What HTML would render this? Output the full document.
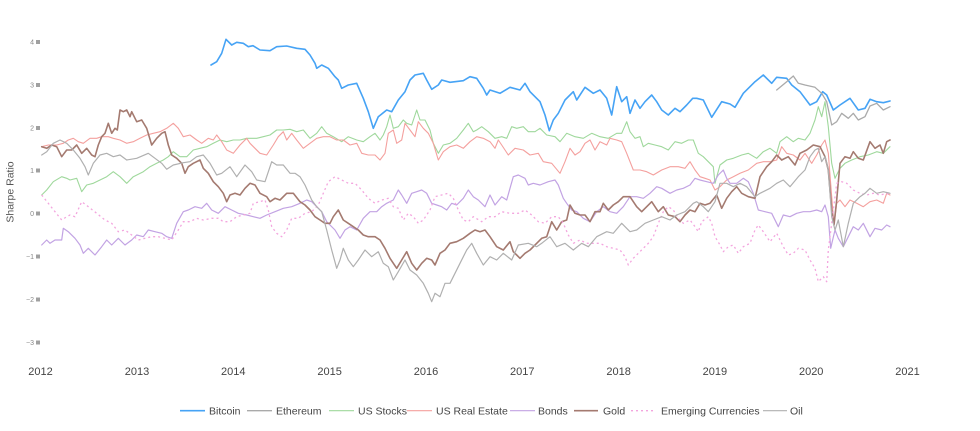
<!DOCTYPE html>
<html>
<head>
<meta charset="utf-8">
<style>
html,body{margin:0;padding:0;background:#fff;}
svg{display:block;}
text{font-family:"Liberation Sans",Arial,sans-serif;}
</style>
</head>
<body>
<svg width="980" height="431" viewBox="0 0 980 431" xmlns="http://www.w3.org/2000/svg">
<rect width="980" height="431" fill="#fff"/>
<!-- Y axis tick labels -->
<g font-size="7" fill="#888" text-anchor="end">
<text x="34" y="44.5">4</text>
<text x="34" y="87.5">3</text>
<text x="34" y="130.5">2</text>
<text x="34" y="173">1</text>
<text x="34" y="216">0</text>
<text x="34" y="259">−1</text>
<text x="34" y="302">−2</text>
<text x="34" y="345">−3</text>
</g>
<g fill="#a0a0a0">
<rect x="36" y="40" width="4" height="4"/>
<rect x="36" y="83" width="4" height="4"/>
<rect x="36" y="126" width="4" height="4"/>
<rect x="36" y="168.5" width="4" height="4"/>
<rect x="36" y="211.5" width="4" height="4"/>
<rect x="36" y="254.5" width="4" height="4"/>
<rect x="36" y="297.5" width="4" height="4"/>
<rect x="36" y="340.5" width="4" height="4"/>
</g>
<text x="0" y="0" font-size="10.5" fill="#555" text-anchor="middle" transform="translate(13.5,192) rotate(-90)">Sharpe Ratio</text>
<!-- X axis labels -->
<g font-size="11" fill="#444" text-anchor="middle">
<text x="40.5" y="375">2012</text>
<text x="137" y="375">2013</text>
<text x="233.3" y="375">2014</text>
<text x="329.6" y="375">2015</text>
<text x="426" y="375">2016</text>
<text x="522.3" y="375">2017</text>
<text x="618.6" y="375">2018</text>
<text x="714.9" y="375">2019</text>
<text x="811.2" y="375">2020</text>
<text x="907.5" y="375">2021</text>
</g>
<g fill="none" stroke-linejoin="round" stroke-linecap="round">
<!-- Bitcoin -->
<polyline stroke="#46a3f5" stroke-width="1.6" points="211,65 216.7,61.7 221.7,53.3 226,39.3 231.7,45 236.7,42.3 243.3,43.3 248.3,46.7 253,45.7 260,50 270,50.7 276.7,46.7 286.7,46 296.7,48.3 305,49.3 310,55 315,63.3 316.7,68.3 321.7,65 328.3,68.3 335,76.7 338.3,80 341.7,88.3 348.3,85 356.7,83.3 363.3,98.3 368.3,111.7 373.3,128.3 378.3,116.7 386.7,110 391.7,111.7 398.3,100 405,91.7 410,80 415,75 423.3,73.3 426.7,80 431.7,89.3 438.3,85 441.7,80 450,82.3 463.3,80.7 470,76.7 476.7,78.3 483.3,88.3 486.7,95 490,90 500,93.3 510,87.3 520,90 525,83.3 530,91.7 540,101.7 545,115 549.3,130.7 553.3,120 558.3,113.3 565,100 573.3,91.7 576.7,100 585,87.3 593.3,93.3 600,90 606.7,98.3 611.7,115 616.7,86.7 621.7,101.7 626.7,96.7 630,113.3 635,100 640,108.3 645,101.7 651.7,95 656.7,101.7 661.7,110 668.3,115 675,108.3 680,111.7 686.7,105 692.7,98.3 696.7,98.3 703.3,100 711.7,117.3 721.7,101.7 730,104 735,107.3 743.3,93.3 755,81.7 763.3,75 771.7,83.3 776.7,77.3 786.7,78.3 791.7,85 800,91.7 810,105 816.7,101.7 822.7,91.7 826.7,95 833.3,110 840,105 850,98.3 858.3,110 865,108.3 870,99.3 876.7,101.7 883.3,102.7 890,101"/>
<!-- Ethereum -->
<polyline stroke="#aaaaaa" stroke-width="1.3" points="776.7,90 786.7,81.7 793.3,76 798.3,83.3 805,85 815,87.3 821.7,93.3 826.7,101.7 831.7,125 836.7,121.7 841.7,113.3 848.3,118.3 853.3,113.3 858.3,120 865,116.7 870,106 876.7,103.3 883.3,110 890,106.7"/>
<!-- US Stocks -->
<polyline stroke="#9fd89c" stroke-width="1.1" points="41.7,195 46.7,190 53.3,181.7 61.7,176.7 66.7,178.3 70,180 76.7,178.3 81.7,191.7 86.7,185 93.3,183.3 100,180 106.7,176.7 113.3,171.7 120,176.7 126.7,183.3 133.3,176.7 143.3,171.7 150,166.7 156.7,163.3 163.3,160 168.3,156.7 173.3,151.7 180,156.7 186.7,156.7 193.3,150 200,148.3 206.7,146.7 213.3,143.3 220,140 226.7,141.7 233.3,140 240,140 246.7,138.3 253.3,138.3 256.7,138.3 263.3,136.7 270,135 276.7,130 283.3,130 290,129.3 296.7,131.7 303.3,130 310,138.3 316.7,133.3 321.7,126.7 326.7,133.3 333.3,136.7 341.7,141.7 348.3,136.7 356.7,140 363.3,141.7 370,136.7 375,133.3 380,140 383.3,135 386.7,126.7 390,115 393.3,128.3 398.3,126.7 403.3,120 406.7,123.3 411.7,125 416.7,110 420,120 425,120 430,130 433.3,143.3 438.3,153.3 443.3,145 450,143.3 456.7,138.3 463.3,130 468.3,123.3 473.3,131.7 476.7,130 481.7,126.7 488.3,131.7 495,138.3 501.7,136.7 506.7,138.3 511.7,126.7 516.7,128.3 523.3,126.7 528.3,131.7 535,131.7 540,128.3 546.7,135 555,136.7 560,141.7 566.7,133.3 575,136.7 583.3,138.3 591.7,133.3 600,136.7 608.3,138.3 616.7,133.3 621.7,133.3 626.7,121.7 630,131.7 635,138.3 640,136.7 643.3,146.7 648.3,143.3 655,145 661.7,146.7 668.3,150 675,141.7 681.7,143.3 688.3,140 693.3,140 698.3,153.3 703.3,156.7 708.3,161.7 713.3,166.7 715,183.3 720,165 726.7,160 733.3,158.3 741.7,155 748.3,153.3 756.7,158.3 763.3,151.7 770,148.3 776.7,153.3 780,141.7 786.7,136.7 793.3,141.7 798.3,138.3 805,140 810,133.3 815,120 818.3,106.7 821.7,116.7 825,101.7 828.3,126.7 831.7,163.3 835,178.3 840,168.3 845,163.3 851.7,160 860,156.7 868.3,155 876.7,151.7 883.3,153.3 890,146.7"/>
<!-- US Real Estate -->
<polyline stroke="#f4a09e" stroke-width="1.1" points="41.7,146.7 48.3,145 56.7,145 63.3,143.3 68.3,140 73.3,138.3 78.3,141.7 83.3,143.3 90,138.3 96.7,138.3 101.7,136.7 108.3,136.7 113.3,138.3 120,140 126.7,143.3 133.3,141.7 140,138.3 146.7,135 153.3,133.3 160,131.7 166.7,128.3 173.3,123.3 178.3,128.3 183.3,136.7 190,135 196.7,140 201.7,143.3 208.3,138.3 213.3,140 216.7,135 221.7,141.7 226.7,150 233.3,153.3 240,145 246.7,138.3 250,143.3 255,148.3 260,153.3 266.7,155 273.3,145 278.3,136.7 283.3,131.7 286.7,140 291.7,133.3 296.7,140 303.3,148.3 310,143.3 316.7,138.3 323.3,136.7 330,136.7 336.7,140 343.3,140 350,145 356.7,143.3 361.7,153.3 368.3,155 375,155 380,160 385,153.3 388.3,133.3 393.3,130 396.7,143.3 401.7,140 405,123.3 410,130 415,136.7 418.3,121.7 423.3,128.3 428.3,133.3 433.3,143.3 438.3,160 443.3,151.7 450,146.7 456.7,145 463.3,148.3 470,141.7 476.7,136.7 483.3,138.3 490,141.7 495,148.3 498.3,140 501.7,145 508.3,155 515,148.3 523.3,150 530,155 538.3,153.3 543.3,161.7 551.7,163.3 560,173.3 565,161.7 570,148.3 575,155 580,151.7 585,143.3 590,140 595,150 600,141.7 606.7,145 610,138.3 616.7,140 621.7,141.7 626.7,153.3 633.3,170 640,170 646.7,171.7 653.3,175 661.7,170 670,166.7 678.3,166.7 685,168.3 690,161.7 695,170 700,176.7 705,178.3 710,180 715,190 720,186.7 726.7,180 733.3,176.7 740,173.3 748.3,170 756.7,163.3 763.3,161.7 770,161.7 776.7,160 781.7,146.7 786.7,153.3 793.3,155 800,160 805,153.3 811.7,163.3 816.7,155 821.7,145 825,140 828.3,153.3 831.7,196.7 834,225 836.7,203.3 840,200 845,206.7 850,200 856.7,203.3 863.3,206.7 870,201.7 876.7,200 883.3,203.3 886.7,193.3 890,195"/>
<!-- Bonds -->
<polyline stroke="#c2a3e3" stroke-width="1.2" points="41.7,245 46.7,240 50,243.3 55,240 61.7,240 63.3,228.3 68.3,231.7 75,238.3 80,245 83.3,253.3 88.3,248.3 95,255 101.7,246.7 106.7,240 111.7,245 118.3,238.3 125,245 131.7,240 136.7,235 143.3,236.7 148.3,230 155,231.7 161.7,233.3 166.7,236.7 171.7,238.3 176.7,223.3 183.3,211.7 188.3,210 195,206.7 201.7,208.3 206.7,203.3 211.7,210 218.3,213.3 225,206.7 231.7,210 238.3,213.3 246.7,215 253.3,216.7 260,218.3 266.7,215 275,211.7 283.3,208.3 291.7,206.7 300,203.3 306.7,200 311.7,201.7 316.7,206.7 321.7,211.7 326.7,221.7 335,230 340,238.3 345,230 350,226.7 356.7,230 363.3,218.3 370,211.7 376.7,211.7 381.7,206.7 386.7,203.3 393.3,200 398.3,190 401.7,195 406.7,203.3 411.7,193.3 416.7,191.7 421.7,190 426.7,193.3 431.7,203.3 436.7,205 441.7,206.7 446.7,210 451.7,203.3 456.7,205 463.3,198.3 468.3,190 473.3,196.7 478.3,200 485,206.7 490,195 495,205 501.7,196.7 506.7,200 510,188.3 513.3,176.7 518.3,175 525,178.3 528.3,185 533.3,183.3 540,185 548.3,181.7 555,180 558.3,185 563.3,198.3 566.7,203.3 571.7,210 576.7,211.7 583.3,218.3 590,221.7 596.7,211.7 603.3,206.7 610,211.7 616.7,213.3 623.3,206.7 630,196.7 636.7,196.7 643.3,198.3 650,193.3 656.7,186.7 661.7,188.3 670,193.3 676.7,190 683.3,188.3 690,185 695,178.3 700,180 706.7,181.7 713.3,183.3 718.3,175 723.3,170 726.7,178.3 730,183.3 736.7,183.3 743.3,178.3 748.3,181.7 753.3,193.3 758.3,210 765,211.7 771.7,213.3 778.3,226.7 783.3,215 790,216.7 796.7,213.3 803.3,211.7 810,211.7 816.7,210 821.7,211.7 825,205 828.3,216.7 830.7,248.3 835,230 838.3,238.3 843.3,246.7 848.3,236.7 853.3,226.7 858.3,230 863.3,223.3 870,236.7 875,228.3 881.7,230 886.7,225 890,226.7"/>
<!-- Gold -->
<polyline stroke="#a47a70" stroke-width="1.6" points="41.7,146.7 46.7,148.3 51.7,145 56.7,146.7 61.7,156.7 66.7,150 71.7,150 76.7,145 81.7,153.3 86.7,148.3 91.7,155 95,156.7 98.3,145 101.7,136.7 105,133.3 108.3,123.3 111.7,133.3 115,128.3 117.3,130 120,110 123.3,111.7 126.7,110 130,116.7 131.7,111.7 136.7,121.7 141.7,120 146.7,128.3 151.7,145 156.7,138.3 161.7,133.3 165,131.7 168.3,145 171.7,155 176.7,158.3 181.7,163.3 185,173.3 188.3,166.7 193.3,163.3 200,160 203.3,168.3 208.3,173.3 213.3,181.7 218.3,186.7 223.3,193.3 226.7,201.7 230,195 235,193.3 240,195 245,188.3 250,183.3 255,185 260,193.3 266.7,196.7 270,201.7 275,198.3 280,200 286.7,193.3 293.3,193.3 300,201.7 305,205 310,210 315,216.7 320,220 325,223.3 330,223.3 333.3,216.7 338.3,210 343.3,220 348.3,223.3 353.3,226.7 358.3,230 363.3,235 368.3,236.7 375,236.7 380,240 385,248.3 390,258.3 396.7,268.3 401.7,260 406.7,251.7 411.7,263.3 416.7,270 421.7,263.3 426.7,258.3 431.7,260 435,265 440,253.3 445,250 450,243.3 456.7,241.7 463.3,238.3 470,233.3 475,230 480,231.7 485,230 490,236.7 496.7,246.7 503.3,250 510,241.7 513.3,251.7 516.7,255 520,258.3 525,253.3 530,250 536.7,243.3 541.7,238.3 546.7,236.7 551.7,221.7 556.7,230 561.7,221.7 566.7,220 570,205 575,213.3 580,215 585,215 590,221.7 595,211.7 600,211.7 603.3,203.3 608.3,210 613.3,205 618.3,201.7 623.3,196.7 630,196.7 636.7,206.7 641.7,211.7 646.7,206.7 651.7,201.7 658.3,211.7 663.3,206.7 668.3,215 675,216.7 680,221.7 685,215 690,210 695,211.7 700,203.3 705,205 710,203.3 716.7,195 721.7,208.3 726.7,198.3 731.7,191.7 736.7,186.7 741.7,193.3 748.3,196.7 755,198.3 760,176.7 766.7,166.7 771.7,161.7 776.7,155 781.7,160 788.3,156.7 795,165 800,153.3 806.7,150 813.3,145 820,146.7 825,156.7 828.3,170 831.7,210 834,225 836.7,200 840,163.3 845,156.7 850,158.3 853.3,151.7 858.3,158.3 863.3,160 870,141.7 875,148.3 880,145 883.3,153.3 886.7,141.7 890,140"/>
<!-- Emerging Currencies -->
<polyline stroke="#f3a5de" stroke-width="1.3" stroke-dasharray="2,3" stroke-linecap="butt" points="41.7,195 48.3,203.3 55,211.7 61.7,220 66.7,216.7 70,215 75,216.7 81.7,201.7 88.3,206.7 96.7,213.3 105,220 111.7,223.3 118.3,231.7 125,230 131.7,235 138.3,240 145,238.3 151.7,236.7 158.3,236.7 165,238.3 171.7,240 178.3,230 183.3,221.7 190,221.7 196.7,218.3 203.3,220 211.7,218.3 218.3,218.3 223.3,221.7 230,221.7 236.7,216.7 243.3,215 250,213.3 253.3,203.3 260,201.7 265,200 268.3,210 271.7,226.7 276.7,233.3 281.7,236.7 286.7,230 291.7,218.3 298.3,218.3 305,213.3 311.7,211.7 318.3,205 323.3,193.3 328.3,181.7 335,176.7 341.7,180 348.3,183.3 355,183.3 361.7,190 368.3,198.3 375,203.3 381.7,200 388.3,198.3 393.3,206.7 398.3,208.3 403.3,220 408.3,213.3 413.3,216.7 418.3,223.3 423.3,220 430,210 435,196.7 441.7,195 448.3,193.3 453.3,198.3 458.3,210 463.3,220 468.3,221.7 473.3,216.7 481.7,221.7 488.3,216.7 495,216.7 501.7,211.7 510,213.3 518.3,213.3 525,210 531.7,215 538.3,221.7 545,223.3 551.7,216.7 558.3,216.7 563.3,223.3 568.3,235 573.3,243.3 580,240 586.7,243.3 593.3,243.3 600,243.3 606.7,246.7 613.3,248.3 620,250 625,256.7 628.3,265 633.3,258.3 638.3,253.3 643.3,248.3 648.3,243.3 653.3,236.7 658.3,223.3 663.3,211.7 668.3,206.7 673.3,210 678.3,218.3 683.3,223.3 690,220 695,226.7 698.3,231.7 701.7,221.7 708.3,216.7 711.7,223.3 715,236.7 720,245 723.3,251.7 728.3,246.7 733.3,245 738.3,253.3 743.3,246.7 750,243.3 755,230 758.3,225 763.3,231.7 770,241.7 776.7,233.3 783.3,246.7 788.3,255 793.3,253.3 798.3,248.3 805,250 810,260 815,268.3 818.3,281.7 823.3,276.7 826.7,281.7 828.3,250 831.7,223.3 836.7,183.3 841.7,181.7 846.7,183.3 853.3,190 860,193.3 866.7,195 873.3,193.3 880,195 886.7,193.3 890,195"/>
<!-- Oil -->
<polyline stroke="#b0b0b0" stroke-width="1.2" points="41.7,155 46.7,151.7 53.3,143.3 60,140 66.7,143.3 73.3,150 80,158.3 85,166.7 88.3,175 93.3,163.3 100,155 106.7,153.3 113.3,156.7 120,155 126.7,160 136.7,158.3 148.3,153.3 155,158.3 161.7,163.3 166.7,169.3 173.3,165 183.3,162.7 190,161.7 196.7,156.7 203.3,155 210,163.3 216.7,175 221.7,173.3 230,166.7 236.7,176.7 245,165 251.7,171.7 256.7,180 265,181.7 271.7,161.7 276.7,165 283.3,165 290,173.3 295,173.3 300,176.7 305,185 311.7,200 316.7,206.7 321.7,211.7 326.7,230 331.7,250 336.7,268.3 340,260 343.3,248.3 348.3,260 353.3,266.7 358.3,260 365,250 371.7,256.7 378.3,251.7 383.3,263.3 388.3,266.7 393.3,280 398.3,271.7 405,260 410,270 416.7,275 423.3,283.3 428.3,293.3 431.7,301.7 435,293.3 440,296.7 445,283.3 450,283.3 455,273.3 460,263.3 466.7,250 471.7,243.3 476.7,253.3 483.3,265 490,256.7 496.7,260 503.3,253.3 511.7,260 518.3,245 528.3,243.3 536.7,246.7 541.7,243.3 550,236.7 556.7,246.7 565,243.3 573.3,250 581.7,243.3 588.3,246.7 596.7,236.7 606.7,231.7 613.3,233.3 621.7,223.3 630,231.7 636.7,230 645,223.3 653.3,220 661.7,216.7 670,220 676.7,215 685,211.7 693.3,203.3 696.7,201.7 703.3,206.7 708.3,211.7 715,201.7 720,183.3 726.7,183.3 733.3,186.7 740,183.3 746.7,186.7 755,196.7 760,193.3 770,188.3 776.7,183.3 783.3,180 790,186.7 798.3,176.7 805,170 810,156.7 815,150 818.3,148.3 821.7,161.7 825,156.7 828.3,170 831.7,216.7 835,230 838.3,220 843.3,246.7 848.3,223.3 853.3,203.3 860,196.7 865,193.3 870,188.3 876.7,193.3 883.3,191.7 890,193.3"/>
</g>
<!-- Legend -->
<g stroke-linecap="butt">
<line x1="180" y1="410.7" x2="205" y2="410.7" stroke="#46a3f5" stroke-width="1.6"/>
<line x1="247" y1="410.7" x2="272" y2="410.7" stroke="#aaaaaa" stroke-width="1.3"/>
<line x1="329" y1="410.7" x2="354" y2="410.7" stroke="#9fd89c" stroke-width="1.2"/>
<line x1="407" y1="410.7" x2="432" y2="410.7" stroke="#f4a09e" stroke-width="1.2"/>
<line x1="510" y1="410.7" x2="535" y2="410.7" stroke="#c2a3e3" stroke-width="1.2"/>
<line x1="574" y1="410.7" x2="598" y2="410.7" stroke="#a47a70" stroke-width="1.6"/>
<line x1="631" y1="410.7" x2="656" y2="410.7" stroke="#f3a5de" stroke-width="1.3" stroke-dasharray="2,3"/>
<line x1="763" y1="410.7" x2="787" y2="410.7" stroke="#b0b0b0" stroke-width="1.2"/>
</g>
<g font-size="10.5" fill="#444">
<text x="209" y="414.5">Bitcoin</text>
<text x="276" y="414.5">Ethereum</text>
<text x="358" y="414.5">US Stocks</text>
<text x="436" y="414.5">US Real Estate</text>
<text x="538" y="414.5">Bonds</text>
<text x="603" y="414.5">Gold</text>
<text x="661" y="414.5">Emerging Currencies</text>
<text x="790" y="414.5">Oil</text>
</g>
</svg>
</body>
</html>
